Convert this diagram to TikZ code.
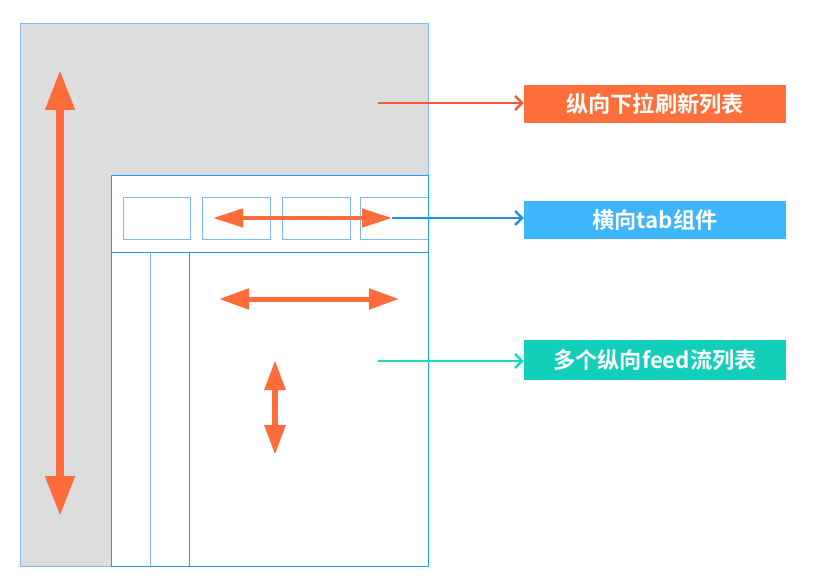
\documentclass[tikz,border=0pt]{standalone}
\usepackage{fontspec}
\newfontfamily\cjk{Noto Sans CJK SC}[BoldFont={Noto Sans CJK SC Bold}]
\usetikzlibrary{arrows.meta}
\definecolor{grayfill}{HTML}{DDDDDD}
\definecolor{frameblue}{HTML}{1E9BFF}
\definecolor{lightblue}{HTML}{7DB9F5}
\definecolor{bigorange}{HTML}{FF6B3A}
\definecolor{lblorange}{HTML}{FF6F3C}
\definecolor{lblblue}{HTML}{3DB5FF}
\definecolor{lblteal}{HTML}{12CFB9}
\definecolor{conorange}{HTML}{F35A3C}
\definecolor{conblue}{HTML}{1E8FF0}
\definecolor{conteal}{HTML}{1AD8C4}
\tikzset{
  x=1pt,y=-1pt,
  label box/.style={minimum width=262pt,minimum height=38pt,inner sep=0pt,text=white,font=\cjk\bfseries\fontsize{22.2}{26}\selectfont},
  fatarrow/.style={draw=bigorange,line width=#1},
  connector/.style={line width=2.5pt,-{Straight Barb[length=7pt,width=14pt,line width=2.5pt]}},
  tabbox/.style={draw=lightblue,line width=0.9pt},
}
\begin{document}
\begin{tikzpicture}
\useasboundingbox (0,0) rectangle (816,588);
% gray outer panel
\fill[grayfill] (20,23) rectangle (428,566);
\draw[lightblue,line width=0.8pt] (20,23) rectangle (428,566);
% white inner panel
\fill[white] (111,176) rectangle (428,566);
\draw[frameblue,line width=1pt] (111,176) rectangle (428,566);
\draw[frameblue,line width=1pt] (111,252) -- (428,252);
\draw[lightblue,line width=1pt] (150,252) -- (150,566);
\draw[frameblue,line width=0.8pt] (189,252) -- (189,566);
% tab boxes
\draw[tabbox] (123,197) rectangle (190,239);
\draw[tabbox] (202,197) rectangle (270,239);
\draw[tabbox] (282,197) rectangle (350,239);
\draw[tabbox] (428,197) -- (360,197) -- (360,239) -- (428,239);
% coordinates
\coordinate (bigtop) at (60,70);
\coordinate (bigbot) at (60,516);
\coordinate (tabl) at (213,218);
\coordinate (tabr) at (392,218);
\coordinate (feedl) at (219,299);
\coordinate (feedr) at (399,299);
\coordinate (vtop) at (275,360);
\coordinate (vbot) at (275,455);
\coordinate (c1) at (378,103);
\coordinate (c3) at (378,361);
% label boxes
\node[label box,fill=lblorange] (lbl1) at (655,104) {纵向下拉刷新列表};
\node[label box,fill=lblblue] (lbl2) at (655,220) {横向tab组件};
\node[label box,fill=lblteal,minimum height=40pt] (lbl3) at (655,360) {多个纵向feed流列表};
% connectors
\draw[connector,conorange] (c1) -- (lbl1.west|-c1);
\draw[connector,conblue] (tabr) -- (lbl2.west|-tabr);
\draw[connector,conteal] (c3) -- (lbl3.west|-c3);
% fat double arrows
\draw[fatarrow=8pt,{Triangle[length=40pt,width=28pt]}-{Triangle[length=40pt,width=28pt]}] (bigtop) -- (bigbot);
\draw[fatarrow=4.5pt,{Triangle[length=30pt,width=18pt]}-{Triangle[length=30pt,width=18pt]}] (tabl) -- (tabr);
\draw[fatarrow=5pt,{Triangle[length=30pt,width=20pt]}-{Triangle[length=30pt,width=20pt]}] (feedl) -- (feedr);
\draw[fatarrow=6pt,{Triangle[length=30pt,width=20pt]}-{Triangle[length=30pt,width=20pt]}] (vtop) -- (vbot);
\end{tikzpicture}
\end{document}
